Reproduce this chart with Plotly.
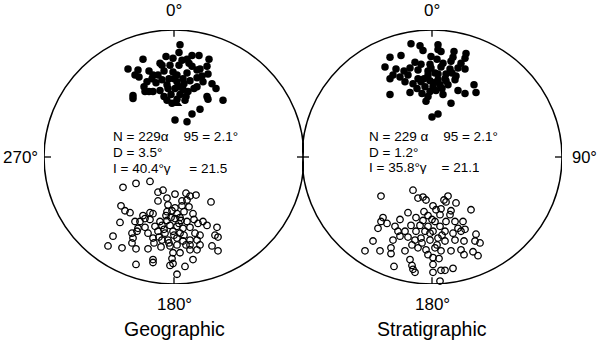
import plotly.graph_objects as go
import numpy as np

# Stereonet coordinates (east, north), primitive circle radius = 130 units
R = 130

geo_lower_e = [6, 5, -31, -8, -1, 8, 18, 25, 35, 13, -14, -12, -4, 5, 18, 33, -46, -36, -39, -35,
               -21, -16, -1, 3, 13, 23, 26, 34, -27, -22, -12, -7, 3, 9, 16, 23, 29, 38, 42, -29,
               -21, -14, -6, 1, 9, 14, 23, -41, -41, -25, -7, -2, 3, 11, 33, 34, 49, 26, 18, 1, 13,
               0, 5, -10, 10, -18, 20, -3, 6, 12, -10, -30, 28, 15, -25, -5]
geo_lower_n = [115, 107, 100, 103, 101, 99, 104, 104, 100, 100, 96, 94, 94, 94, 93, 93, 90, 89, 84, 82,
               84, 84, 87, 84, 86, 89, 90, 85, 77, 80, 79, 74, 77, 80, 78, 81, 77, 75, 70, 67,
               67, 68, 70, 70, 69, 67, 72, 63, 60, 67, 58, 55, 59, 58, 62, 59, 58, 49, 44, 38, 36,
               80, 72, 88, 75, 76, 70, 64, 64, 62, 62, 72, 83, 96, 88, 80]

geo_upper_e = [-51, -38, -24, -11, -16, 1, 12, 16, 22, -16, -7, 8, 13, 37, -6, 1, 8, 15, -53, -49,
               -44, -24, -21, -7, 3, 10, 19, -31, -29, -34, -39, -54, -14, -7, 1, 7, 13, 24, 29, 43,
               -36, -29, -19, -12, -4, 3, 9, 16, -42, -37, -26, -16, -9, -1, 6, 21, 26, 41, 44, -61,
               -41, -21, -12, -6, 3, 9, 16, 23, -42, -66, -52, -38, -26, -13, -4, 3, 16, 26, 38, 44,
               -1, 6, 16, 23, -21, -21, -2, 19, -1, -38, -4, 11, 3,
               -8, -3, 5, -10, 0, 10, -15, -5, 12, -20, 6, -2, 20, -24, 33]
geo_upper_n = [-31, -27, -25, -34, -36, -38, -37, -40, -39, -45, -42, -45, -44, -46, -49, -52, -50, -51, -50, -55,
               -57, -57, -58, -56, -58, -56, -58, -60, -63, -66, -66, -67, -66, -65, -63, -65, -66, -68, -66, -72,
               -73, -72, -71, -70, -70, -71, -73, -72, -78, -76, -78, -76, -78, -76, -78, -78, -80, -80, -82, -81,
               -83, -83, -85, -85, -83, -86, -85, -85, -88, -91, -93, -94, -94, -92, -91, -90, -90, -90, -91, -96,
               -98, -98, -95, -95, -105, -108, -104, -105, -109, -110, -111, -112, -120,
               -60, -62, -68, -74, -80, -80, -82, -88, -90, -88, -62, -55, -64, -64, -70]

geo_mean_e = [2]
geo_mean_n = [55]

str_lower_e = [-21, -12, 6, 6, 9, 22, 34, -42, -31, -9, -1, 5, 21, 33, -17, -11, -2, 11, 19, 29,
               -47, -36, -22, -14, -1, 9, 18, 26, 33, -39, -32, -24, -14, -4, 6, 14, 24, -42, -27, -19,
               -11, -2, 6, 13, 23, -7, 1, 8, 16, 26, 33, 42, 44, -42, -22, -2, 4, -4, 11, -6, 19, 0, 6,
               -4, 3, -8, 10, -15, -10, 2, 14, -28, 20]
str_lower_n = [116, 114, 115, 110, 108, 108, 106, 102, 104, 109, 103, 100, 102, 101, 97, 95, 95, 96, 98, 96,
               92, 90, 91, 89, 91, 92, 90, 91, 90, 84, 82, 84, 80, 84, 85, 85, 83, 80, 77, 75,
               77, 78, 79, 80, 79, 72, 72, 74, 74, 68, 65, 74, 66, 64, 66, 67, 68, 62, 64, 57, 55, 41, 44,
               88, 86, 80, 70, 70, 65, 76, 78, 88, 86]

str_upper_e = [-19, -51, -14, -9, -6, 12, 16, 14, 24, 1, 4, 9, 19, 39, -4, 8, 18, -24, -49, -51,
               -45, -32, -16, -9, 3, 14, 23, 31, -54, -37, -21, -12, -4, 8, 26, 33, -34, -27, -16, -7,
               1, 13, 21, 29, 44, -59, -39, -32, -24, -17, -11, -2, 6, 13, 23, 32, 43, 48, -67, -52,
               -41, -27, -14, -6, 3, 9, 19, 29, 41, 46, -41, -4, 1, 7, 32, -22, -20, 1, -38, 9,
               13, 21, -19, -17, 1, 8, -10, -2, 5, -20, 0, 10, -8]
str_upper_n = [-34, -40, -42, -41, -44, -44, -40, -46, -47, -50, -54, -53, -55, -54, -60, -59, -59, -57, -62, -66,
               -68, -64, -62, -65, -66, -66, -66, -66, -73, -71, -70, -70, -71, -71, -73, -74, -76, -76, -76, -76,
               -76, -76, -78, -76, -79, -86, -85, -81, -82, -85, -83, -85, -83, -86, -85, -86, -86, -88, -96, -96,
               -93, -96, -93, -95, -93, -96, -96, -95, -97, -101, -99, -100, -103, -104, -100, -105, -111, -110, -112, -116,
               -116, -114, -115, -118, -118, -127, -88, -78, -90, -90, -64, -80, -56]

tick_angles = [0, 90, 180, 270]
panel_titles = ["Geographic", "Stratigraphic"]
compass_labels = [["0°", None, "180°", "270°"], ["0°", "90°", "180°", None]]
NB = "\u00a0"
stats = [
    [("N = 229α" + NB * 4 + "95 = 2.1°", -62, 21), ("D = 3.5°", -62, 4.5), ("I = 40.4°γ" + NB * 5 + "= 21.5", -62, -11.5)],
    [("N = 229 α" + NB * 4 + "95 = 2.1°", -64, 21.5), ("D = 1.2°", -64, 5), ("I = 35.8°γ" + NB * 4 + "= 21.1", -64, -11)],
]

FONT = "Liberation Sans, Arial, Helvetica, sans-serif"
W, H = 600, 347

fig = go.Figure()

panels = [
    dict(xd=[44 / W, 304 / W], data=(geo_lower_e, geo_lower_n, geo_upper_e, geo_upper_n), mean=(geo_mean_e, geo_mean_n)),
    dict(xd=[302 / W, 562 / W], data=(str_lower_e, str_lower_n, str_upper_e, str_upper_n), mean=None),
]
ydom = [(H - 284) / H, (H - 30) / H]

for i, p in enumerate(panels):
    xa = "x" if i == 0 else "x2"
    ya = "y" if i == 0 else "y2"
    le, ln, ue, un = p["data"]
    fig.add_trace(go.Scatter(x=ue, y=un, mode="markers", xaxis=xa, yaxis=ya, cliponaxis=False,
                             marker=dict(symbol="circle-open", size=6.5, color="black", line=dict(width=1.3, color="black")),
                             showlegend=False, hoverinfo="skip"))
    fig.add_trace(go.Scatter(x=le, y=ln, mode="markers", xaxis=xa, yaxis=ya, cliponaxis=False,
                             marker=dict(symbol="circle", size=7.5, color="black"),
                             showlegend=False, hoverinfo="skip"))
    if p["mean"]:
        fig.add_trace(go.Scatter(x=p["mean"][0], y=p["mean"][1], mode="markers", xaxis=xa, yaxis=ya,
                                 marker=dict(symbol="triangle-up", size=11, color="black"),
                                 showlegend=False, hoverinfo="skip"))
    # primitive circle
    fig.add_shape(type="circle", xref=xa, yref=ya, x0=-R, x1=R, y0=-R, y1=R,
                  line=dict(color="black", width=1.5))
    # ticks at cardinal directions
    for a in tick_angles:
        t = np.deg2rad(a)
        fig.add_shape(type="line", xref=xa, yref=ya,
                      x0=(R - 7) * np.sin(t), y0=(R - 7) * np.cos(t),
                      x1=(R + 7) * np.sin(t), y1=(R + 7) * np.cos(t),
                      line=dict(color="black", width=1.3))
    # compass labels
    lab = compass_labels[i]
    if lab[0]:
        fig.add_annotation(x=0, y=R, xref=xa, yref=ya, text=lab[0], showarrow=False,
                           yanchor="bottom", yshift=8, font=dict(size=17, family=FONT, color="black"))
    if lab[1]:
        fig.add_annotation(x=1, y=0, xref="paper", yref=ya, text=lab[1], showarrow=False,
                           xanchor="right", xshift=-2, borderpad=0,
                           font=dict(size=16.5, family=FONT, color="black"))
    if lab[2]:
        fig.add_annotation(x=0, y=-R, xref=xa, yref=ya, text=lab[2], showarrow=False,
                           yanchor="top", yshift=-9, font=dict(size=17, family=FONT, color="black"))
    if lab[3]:
        fig.add_annotation(x=-R, y=0, xref=xa, yref=ya, text=lab[3], showarrow=False,
                           xanchor="right", xshift=-4, font=dict(size=17, family=FONT, color="black"))
    # panel title
    fig.add_annotation(x=0, y=-R, xref=xa, yref=ya, text=panel_titles[i], showarrow=False,
                       yanchor="middle", yshift=-45, font=dict(size=19.5, family=FONT, color="black"))
    # statistics text
    for txt, sx, sy in stats[i]:
        fig.add_annotation(x=sx, y=sy, xref=xa, yref=ya, text=txt, showarrow=False,
                           xanchor="left", yanchor="middle", height=13, borderpad=0,
                           font=dict(size=13.5, family=FONT, color="black"))

    axis_common = dict(visible=False, showgrid=False, zeroline=False, range=[-R, R], fixedrange=True)
    fig.update_layout(**{
        ("xaxis" if i == 0 else "xaxis2"): dict(domain=p["xd"], anchor=ya, **axis_common),
        ("yaxis" if i == 0 else "yaxis2"): dict(domain=ydom, anchor=xa, **axis_common),
    })

fig.update_layout(width=W, height=H, margin=dict(l=0, r=0, t=0, b=0),
                  paper_bgcolor="white", plot_bgcolor="white", showlegend=False)

fig.write_html("out.html", config={"displayModeBar": False, "staticPlot": True},
               post_script="document.body.style.margin='0';document.body.style.padding='0';")
